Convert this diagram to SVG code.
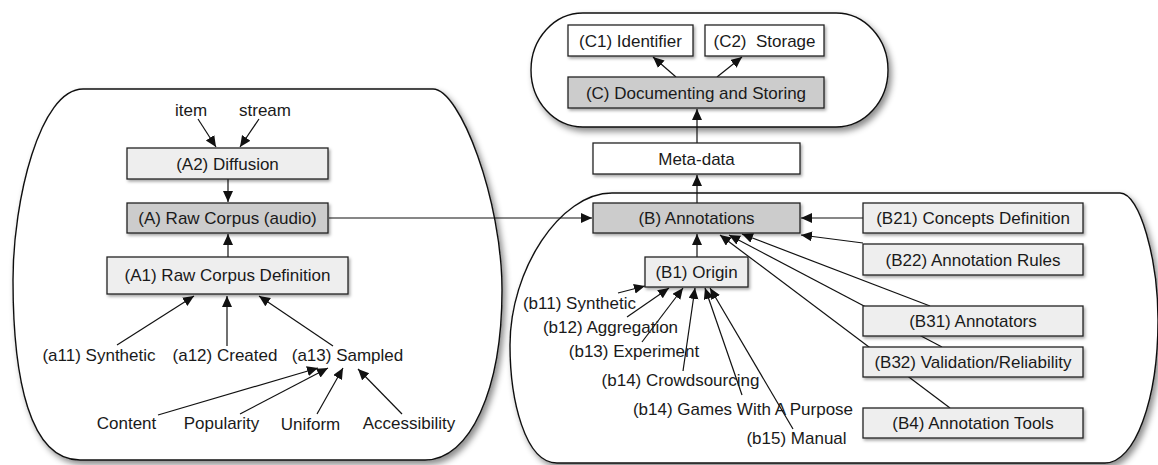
<svg xmlns="http://www.w3.org/2000/svg" width="1158" height="465" viewBox="0 0 1158 465">
<style>
.cont{fill:#fff;stroke:#111;stroke-width:1.4;filter:url(#shC)}
.box{stroke:#222;stroke-width:1.3;filter:url(#shB)}
.g1{fill:#cccccc}
.g2{fill:#eeeeee}
.w{fill:#ffffff}
text{font-family:"Liberation Sans",Arial,sans-serif;font-size:17px;fill:#1a1a1a;text-anchor:middle}
.c line{stroke:#111;stroke-width:1.2;marker-end:url(#ah)}
</style>
<defs>
<filter id="shC" x="-10%" y="-10%" width="125%" height="130%">
<feDropShadow dx="3" dy="4" stdDeviation="3" flood-color="#000" flood-opacity="0.45"/>
</filter>
<filter id="shB" x="-10%" y="-20%" width="125%" height="160%">
<feDropShadow dx="1.5" dy="2" stdDeviation="1.5" flood-color="#000" flood-opacity="0.35"/>
</filter>
<marker id="ah" markerUnits="userSpaceOnUse" markerWidth="12" markerHeight="12" refX="11" refY="5" orient="auto">
<path d="M0,0 L11,5 L0,10 Z" fill="#111"/>
</marker>
</defs>

<g id="containerA">
<path class="cont" d="M83,89 L433,89 C460,89 502,200 502,290 C502,390 470,460 425,460 L80,460 C30,460 13,380 13,280 C13,200 40,89 83,89 Z"/>
</g>
<g id="containerB">
<path class="cont" d="M612,193 L1120,193 C1140,193 1158,260 1158,320 C1158,400 1135,463 1105,463 L557,463 C525,463 510,400 510,345 C510,270 560,193 612,193 Z"/>
</g>
<g id="containerC">
<rect class="cont" x="531" y="13" width="357" height="114" rx="52" ry="57"/>
</g>

<g id="connectors" class="c">
<line x1="198" y1="119" x2="216" y2="147"/>
<line x1="259" y1="119" x2="240" y2="147"/>
<line x1="228" y1="179" x2="228" y2="202"/>
<line x1="228" y1="257" x2="228" y2="234"/>
<line x1="117" y1="345" x2="194" y2="296"/>
<line x1="227" y1="346" x2="227" y2="296"/>
<line x1="333" y1="346" x2="259" y2="296"/>
<line x1="158" y1="415" x2="318" y2="368"/>
<line x1="240" y1="414" x2="328" y2="368"/>
<line x1="317" y1="414" x2="343" y2="368"/>
<line x1="402" y1="414" x2="358" y2="369"/>
<line x1="329" y1="218" x2="592" y2="218"/>
<line x1="697" y1="203" x2="697" y2="175"/>
<line x1="697" y1="143" x2="697" y2="109"/>
<line x1="676" y1="77" x2="653" y2="57"/>
<line x1="717" y1="77" x2="742" y2="57"/>
<line x1="697" y1="257" x2="697" y2="234"/>
<line x1="863" y1="218" x2="801" y2="218"/>
<line x1="863" y1="243" x2="801" y2="235"/>
<line x1="930" y1="306" x2="742" y2="234"/>
<line x1="942" y1="347" x2="729" y2="235"/>
<line x1="950" y1="408" x2="720" y2="235"/>
<line x1="618" y1="293" x2="645" y2="286"/>
<line x1="627" y1="317" x2="669" y2="288"/>
<line x1="642" y1="342" x2="683" y2="288"/>
<line x1="683" y1="371" x2="695" y2="288"/>
<line x1="742" y1="395" x2="705" y2="288"/>
<line x1="793" y1="429" x2="710" y2="288"/>
</g>

<g id="A2"><rect class="box g2" x="127" y="148" width="201" height="31"/><text x="227.5" y="169.5">(A2) Diffusion</text></g>
<g id="A"><rect class="box g1" x="127" y="203" width="201" height="30"/><text x="227.5" y="224">(A) Raw Corpus (audio)</text></g>
<g id="A1"><rect class="box g2" x="107" y="257" width="241" height="37"/><text x="227.5" y="281">(A1) Raw Corpus Definition</text></g>

<g id="item"><text x="191" y="116">item</text></g>
<g id="stream"><text x="265" y="116">stream</text></g>
<g id="a11"><text x="99" y="361">(a11) Synthetic</text></g>
<g id="a12"><text x="225" y="361">(a12) Created</text></g>
<g id="a13"><text x="347.5" y="361">(a13) Sampled</text></g>
<g id="content"><text x="126.5" y="429">Content</text></g>
<g id="popularity"><text x="221.5" y="429">Popularity</text></g>
<g id="uniform"><text x="310.5" y="430">Uniform</text></g>
<g id="accessibility"><text x="409" y="429">Accessibility</text></g>

<g id="C1"><rect class="box w" x="568" y="25" width="125" height="31"/><text x="630.5" y="46.5">(C1) Identifier</text></g>
<g id="C2"><rect class="box w" x="705" y="25" width="119" height="31"/><text x="764.5" y="46.5" xml:space="preserve">(C2)  Storage</text></g>
<g id="C"><rect class="box g1" x="568" y="77" width="256" height="31"/><text x="696" y="98.5">(C) Documenting and Storing</text></g>
<g id="Meta"><rect class="box w" x="593" y="143" width="207" height="31"/><text x="696.5" y="164.5">Meta-data</text></g>
<g id="B"><rect class="box g1" x="593" y="203" width="207" height="30"/><text x="696.5" y="224">(B) Annotations</text></g>
<g id="B1"><rect class="box g2" x="645" y="257" width="103" height="30"/><text x="696.5" y="278">(B1) Origin</text></g>
<g id="B21"><rect class="box g2" x="863" y="203" width="220" height="30"/><text x="973" y="224">(B21) Concepts Definition</text></g>
<g id="B22"><rect class="box g2" x="863" y="244" width="220" height="31"/><text x="973" y="265.5">(B22) Annotation Rules</text></g>
<g id="B31"><rect class="box g2" x="863" y="306" width="220" height="30"/><text x="973" y="327">(B31) Annotators</text></g>
<g id="B32"><rect class="box g2" x="863" y="347" width="220" height="30"/><text x="973" y="368">(B32) Validation/Reliability</text></g>
<g id="B4"><rect class="box g2" x="863" y="408" width="220" height="30"/><text x="973" y="429">(B4) Annotation Tools</text></g>

<g id="b11"><text x="579.5" y="309">(b11) Synthetic</text></g>
<g id="b12"><text x="610.5" y="333">(b12) Aggregation</text></g>
<g id="b13"><text x="634" y="357">(b13) Experiment</text></g>
<g id="b14c"><text x="680.5" y="386">(b14) Crowdsourcing</text></g>
<g id="b14g"><text x="743" y="415">(b14) Games With A Purpose</text></g>
<g id="b15"><text x="796.5" y="444">(b15) Manual</text></g>
</svg>
